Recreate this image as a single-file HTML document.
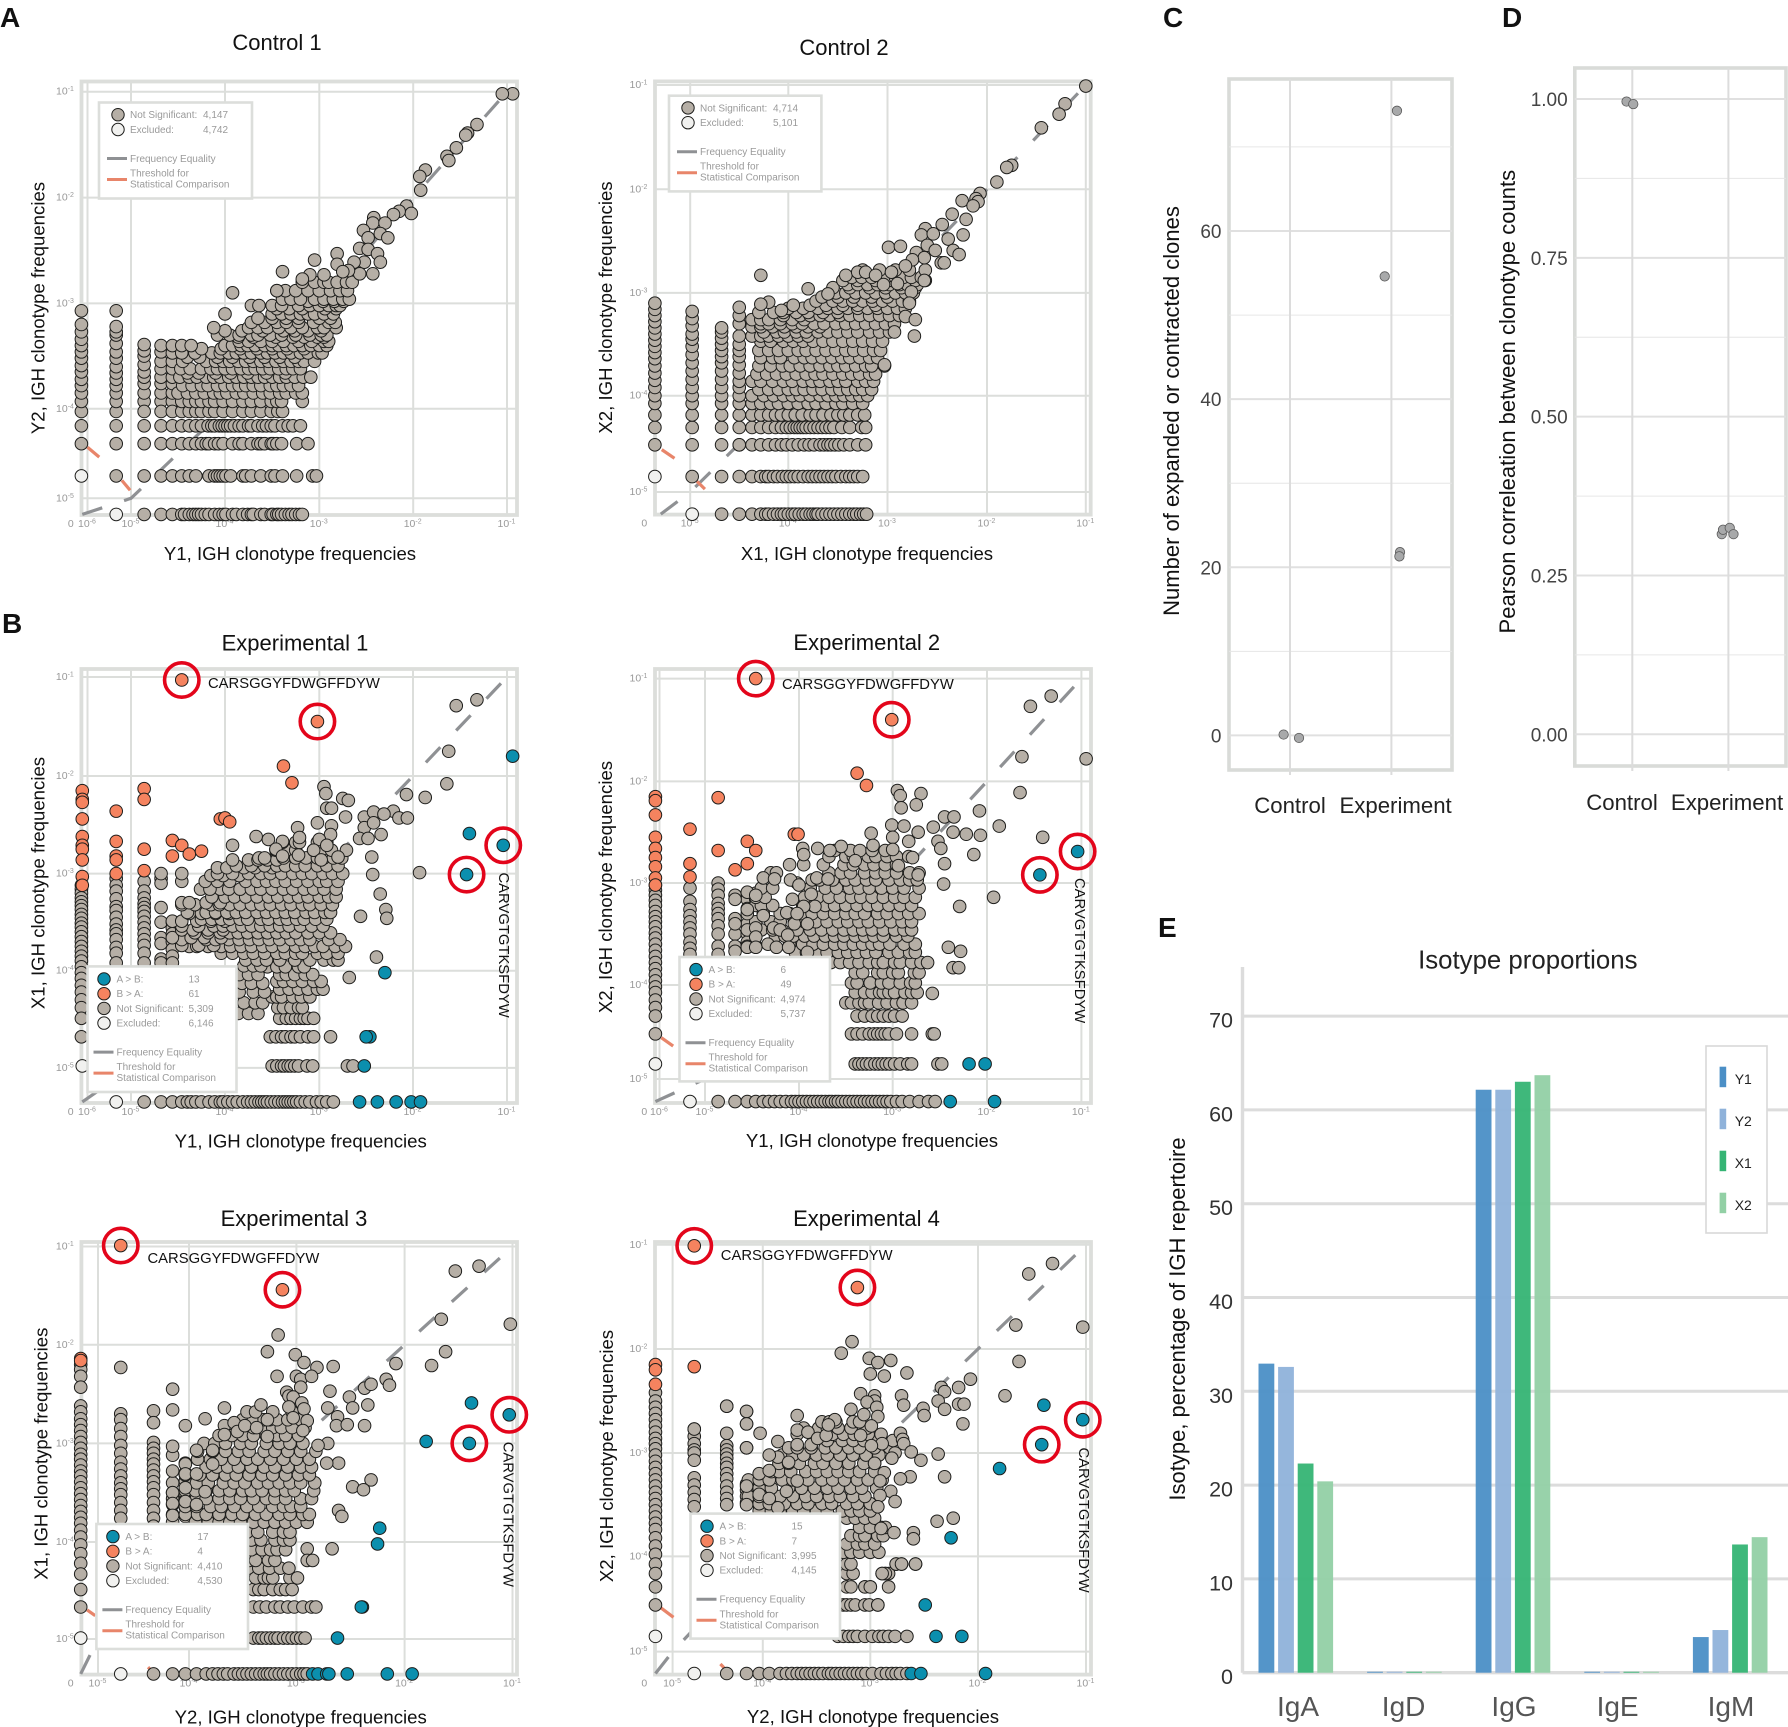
<!DOCTYPE html>
<html lang="en">
<head>
<meta charset="utf-8">
<title>IGH clonotype frequency comparison</title>
<style>
html,body{margin:0;padding:0;background:#fff}
svg{display:block}
text{font-family:"Liberation Sans",Arial,sans-serif}
</style>
</head>
<body>
<svg id="fig" xmlns="http://www.w3.org/2000/svg" width="1788" height="1727" viewBox="0 0 1788 1727"></svg>
<script>
/* ---- All scatter values are log10(frequency) x 100. Rows: [y, x, x, ...]; Columns: [x, y, y, ...]; Pairs: [x, y] ---- */
const control1XTicks=[-6,-5,-4,-3,-2,-1];
const control1YTicks=[-1,-2,-3,-4,-5];
const control1Cols=[
[-614,-403,-393,-385,-378,-372,-365,-359,-352,-346,-340,-334,-327,-320,-307],
[-534,-403,-393,-385,-378,-372,-366,-360,-352,-346,-338,-330,-327,-322,-307],
[-486,-393,-385,-376,-370,-365,-358,-350,-345,-339],
[-468,-393,-385,-376,-370,-362,-355,-346,-340],
[-456,-393,-385,-376,-370,-362,-355,-347,-340]];
const control1Rows=[
[-518,-486,-468,-456,-446,-443,-438,-434,-431,-428,-425,-421,-417,-411,-406,-402,-399,-392,-388,-381,-376,-372,-370,-362,-358,-351,-349,-345,-343,-340,-336,-332,-329,-325,-321,-318],
[-475,-534,-486,-468,-456,-446,-438,-431,-417,-411,-408,-405,-402,-399,-394,-381,-378,-372,-362,-351,-347,-339,-324,-307,-303],
[-439,-614,-534,-486,-468,-456,-446,-438,-431,-425,-420,-417,-411,-407,-402,-392,-385,-381,-372,-365,-362,-358,-351,-349,-345,-340,-324,-312],
[-419,-614,-534,-486,-468,-456,-446,-438,-431,-425,-418,-414,-411,-406,-403,-400,-397,-394,-390,-385,-381,-375,-372,-365,-360,-356,-351,-347,-339,-333,-328,-320],
[-403,-486,-468,-456,-446,-438,-431,-425,-417,-411,-402,-392,-381,-372,-362,-351,-344,-339],
[-393,-446,-438,-431,-425,-417,-411,-402,-392,-381,-372,-362,-351,-345,-340,-318],
[-385,-450,-440,-431,-422,-412,-405,-398,-388,-380,-370,-360,-352,-342,-335,-325,-318],
[-378,-445,-435,-425,-418,-408,-400,-392,-385,-378,-370,-362,-352,-345,-338,-330,-322],
[-370,-448,-438,-430,-420,-412,-405,-396,-388,-380,-372,-365,-358,-350,-342,-335,-326,-317,-309],
[-366,-440,-428,-410,-394,-376,-356,-336],
[-362,-447,-437,-425,-415,-408,-400,-392,-383,-375,-368,-360,-352,-343,-335,-328,-320],
[-355,-445,-420,-410,-402,-395,-386,-378,-370,-362,-354,-346,-338,-330,-322,-316,-305],
[-351,-440,-427,-408,-392,-374,-358,-342,-326],
[-347,-446,-432,-414,-405,-396,-388,-380,-372,-362,-355,-347,-338,-330,-320,-312,-301,-297],
[-343,-425,-404,-384,-366,-350,-334,-316],
[-340,-446,-436,-400,-392,-383,-376,-368,-358,-350,-343,-335,-327,-318,-309,-300,-292],
[-336,-385,-375,-362,-350,-338,-322,-308,-295,-290],
[-332,-386,-370,-346,-328,-316,-302,-295],
[-330,-408,-395,-385,-372,-365,-352,-340,-325,-310,-298,-292],
[-326,-400,-382,-360,-338,-326,-312,-298],
[-323,-412,-375,-365,-355,-343,-330,-318,-302,-295,-282],
[-318,-372,-358,-345,-335,-322,-306,-290,-283],
[-314,-365,-350,-335,-322,-300,-288],
[-310,-400,-350,-340,-330,-320,-312,-305,-295,-285],
[-305,-345,-332,-318,-294,-282],
[-302,-372,-364,-350,-340,-322,-310,-300,-290,-282,-278],
[-298,-312,-296,-284,-274],
[-296,-339,-330,-320,-305,-295,-285,-275,-268],
[-288,-345,-336,-325,-312,-300,-288,-278,-270],
[-280,-318,-305,-295,-290,-281,-271,-265]];
const control1Tail=[[-94,-102],[-105,-102],[-132,-131],[-142,-139],[-144,-141],[-154,-153],[-164,-161],[-162,-165],[-187,-174],[-193,-180],[-192,-193],[-207,-208],[-202,-215],[-215,-213],[-221,-216],[-242,-219],[-243,-224],[-230,-224],[-253,-231],[-235,-234],[-227,-238],[-248,-238],[-257,-248],[-248,-249],[-238,-253],[-235,-261],[-252,-261],[-263,-261],[-281,-253],[-305,-259],[-257,-272],[-243,-272],[-281,-263],[-269,-269],[-275,-270],[-339,-270],[-392,-290],[-345,-288],[-310,-273],[-295,-273],[-318,-277]];
const control1Excluded=[[-534,-518],[-614,-475]];
const control1Threshold=[[[-600,-443],[-573,-454]],[[-521,-480],[-502,-491]]];
const control1Counts=["4,147","4,742"];

const control2XTicks=[-5,-4,-3,-2,-1];
const control2YTicks=[-1,-2,-3,-4,-5];
const control2Cols=[
[-536,-451,-433,-420,-408,-400,-392,-385,-378,-371,-364,-358,-352,-346,-340,-334,-328,-322,-316,-310],
[-498,-451,-433,-420,-408,-400,-392,-384,-376,-368,-360,-352,-345,-340,-332,-325,-318],
[-468,-451,-433,-420,-408,-400,-392,-384,-376,-368,-362,-356,-350,-344,-338,-334],
[-450,-451,-433,-420,-408,-400,-392,-386,-378,-370,-362,-356,-350,-342,-330,-322,-314]];
const control2Rows=[
[-523,-468,-450,-437,-428,-423,-420,-415,-411,-407,-404,-400,-396,-393,-389,-385,-382,-378,-375,-372,-370,-366,-362,-358,-354,-350,-346,-342,-338,-334,-331,-327,-324,-321],
[-484,-498,-468,-450,-437,-428,-423,-420,-415,-411,-406,-402,-398,-394,-390,-385,-380,-376,-372,-368,-364,-360,-356,-352,-347,-342,-338,-334,-330,-325],
[-451,-450,-437,-428,-420,-413,-407,-402,-396,-390,-384,-379,-374,-368,-364,-360,-357,-353,-349,-344,-338,-330,-322],
[-433,-437,-428,-420,-413,-407,-402,-398,-394,-391,-388,-385,-382,-378,-374,-370,-366,-362,-358,-354,-346,-338,-326,-322],
[-420,-437,-428,-420,-413,-407,-400,-393,-386,-378,-372,-365,-357,-350,-344,-338,-330,-323],
[-408,-437,-428,-418,-410,-400,-390,-380,-372,-362,-352,-345,-335,-325],
[-400,-437,-425,-415,-405,-396,-388,-378,-368,-360,-352,-344,-336,-328,-320],
[-394,-430,-420,-410,-400,-392,-384,-375,-366,-356,-348,-340,-332,-325,-316],
[-386,-437,-428,-416,-405,-396,-385,-376,-368,-358,-350,-342,-330,-322,-314],
[-379,-432,-422,-412,-402,-392,-382,-373,-365,-355,-345,-336,-328,-318,-312],
[-371,-430,-418,-406,-398,-388,-378,-368,-358,-350,-342,-332,-322,-316,-303],
[-363,-428,-416,-408,-394,-384,-376,-366,-356,-346,-338,-328,-318,-310],
[-356,-430,-420,-410,-400,-390,-382,-372,-362,-352,-342,-334,-324,-314,-307],
[-347,-428,-418,-405,-395,-385,-375,-365,-355,-345,-335,-325,-315,-305],
[-342,-437,-428,-420,-410,-400,-390,-380],
[-338,-425,-412,-404,-392,-382,-370,-360,-350,-340,-330,-318,-308,-298],
[-333,-437,-428,-416,-404,-392,-380,-368],
[-330,-428,-420,-408,-396,-386,-374,-364,-352,-342,-332,-322,-312,-302,-293],
[-326,-437,-428,-420,-408,-396,-384],
[-322,-405,-388,-378,-368,-358,-348,-338,-328,-318,-308,-298,-288],
[-319,-430,-415,-405,-392,-380,-365,-350],
[-315,-400,-385,-370,-360,-350,-340,-330,-320,-310,-300,-290,-282],
[-312,-395,-378,-362,-345,-330,-312],
[-308,-372,-355,-345,-335,-325,-315,-305,-295,-285,-278],
[-304,-366,-350,-334,-316,-300],
[-300,-352,-342,-332,-322,-312,-302,-292,-282,-274],
[-295,-355,-338,-318,-302,-286,-272],
[-292,-340,-330,-320,-310,-298,-288,-280,-270],
[-288,-345,-330,-312,-295,-272,-262],
[-285,-336,-326,-316,-302,-292,-284,-276,-266],
[-278,-325,-308,-292,-278,-262]];
const control2Tail=[[-100,-101],[-121,-118],[-127,-128],[-145,-141],[-175,-177],[-180,-179],[-190,-193],[-207,-204],[-211,-209],[-225,-211],[-209,-212],[-214,-216],[-235,-224],[-221,-229],[-245,-234],[-262,-238],[-224,-244],[-239,-248],[-266,-244],[-254,-243],[-299,-256],[-287,-255],[-260,-254],[-271,-261],[-234,-259],[-228,-263],[-252,-259],[-246,-271],[-243,-271],[-263,-266],[-275,-268],[-282,-274],[-263,-288],[-428,-283],[-380,-296],[-360,-301],[-420,-309],[-428,-311],[-407,-317],[-282,-323],[-272,-326],[-273,-342],[-303,-370],[-293,-338],[-342,-283],[-330,-280],[-322,-280],[-312,-283],[-304,-292],[-290,-291],[-296,-280],[-276,-299],[-278,-310]];
const control2Excluded=[[-536,-484],[-498,-523]];
const control2Threshold=[[[-529,-456],[-516,-465]],[[-493,-489],[-485,-497]]];
const control2Counts=["4,714","5,101"];

const exp1XTicks=[-6,-5,-4,-3,-2,-1];
const exp1YTicks=[-1,-2,-3,-4,-5];
const exp1Cols=[
[-614,-312,-316,-320,-325,-329,-333,-337,-342,-346,-351,-355,-360,-365,-370,-375,-380,-385,-390,-396,-402,-408,-415,-422,-430,-438,-449,-468],
[-534,-305,-312,-318,-326,-334,-338,-345,-352,-358,-362,-368,-376,-382,-392],
[-486,-308,-318,-325,-331,-335,-339,-344,-350,-356,-362,-368,-374,-382,-392],
[-468,-305,-310,-335,-350,-366,-372,-388,-392],
[-456,-350,-356,-362,-370,-378,-385,-392]];
const exp1Rows=[
[-535,-486,-468,-456,-446,-440,-436,-431,-425,-417,-411,-405,-402,-397,-392,-387,-381,-376,-372,-368,-364,-361,-358,-355,-351,-347,-343,-339,-336,-333,-330,-327,-324,-320,-315,-310,-303,-298,-292,-285],
[-498,-350,-345,-340,-337,-333,-330,-326,-322,-313,-307,-270,-264],
[-468,-352,-346,-340,-336,-330,-326,-320,-312,-306,-288],
[-449,-342,-335,-330,-325,-320,-316,-312,-306],
[-444,-386,-375,-365],
[-438,-344,-338,-330,-322,-318],
[-433,-380,-368,-360],
[-427,-350,-345,-340,-328,-319,-310],
[-422,-385,-370,-358],
[-419,-342,-332,-322,-312,-302,-296],
[-413,-382,-372,-360],
[-411,-345,-338,-328,-318,-306,-298],
[-404,-342,-335,-326,-315,-307,-385,-375,-365],
[-396,-355,-345,-336,-322,-316],
[-395,-380,-370,-362],
[-389,-378,-366,-356,-342,-326,-310,-295,-285,-280],
[-382,-404,-392,-380,-370,-358,-345,-336,-325,-318,-302,-292,-280],
[-375,-438,-430,-418,-404,-394,-383,-372,-360,-350,-338,-325,-315,-305,-296,-283,-272],
[-374,-446,-428,-412],
[-368,-446,-420,-410,-396,-385,-374,-364,-353,-342,-330,-320,-310,-290,-278],
[-366,-456,-436,-422,-404],
[-361,-432,-418,-405,-395,-386,-376,-365,-355,-345,-335,-325,-312,-300,-288],
[-358,-446,-434,-418,-402],
[-354,-446,-428,-412,-402,-392,-382,-372,-362,-352,-342,-332,-320,-308,-296],
[-349,-456,-446,-430,-415,-400],
[-347,-425,-414,-404,-395,-384,-376,-362,-354,-342,-334,-324,-316,-304,-292],
[-341,-438,-425,-410,-396],
[-340,-440,-420,-410,-398,-388,-378,-366,-356,-346,-336,-326,-314,-305,-294,-288],
[-332,-446,-432,-415,-406,-395,-384,-372,-362,-352,-340,-330,-318,-310,-298,-286],
[-330,-446,-438,-420,-405],
[-324,-414,-400,-390,-378,-366,-354,-344,-332,-322,-312,-300,-290,-282],
[-316,-405,-396,-384,-372,-362,-350,-338,-328,-316,-306,-295,-282,-426,-416],
[-308,-395,-378,-366,-356,-346,-336,-324,-312,-300,-292,-280,-446,-421,-408],
[-302,-415,-402,-385],
[-300,-392,-375,-362,-352,-340,-328,-318,-308,-296,-286,-275,-468,-446,-408],
[-294,-408,-398,-380,-368,-350],
[-292,-388,-372,-358,-345,-336,-325,-315,-302,-292,-280],
[-286,-392,-375,-365,-355,-345],
[-284,-364,-358,-338,-325,-314,-302,-295,-285,-276],
[-276,-346,-339,-335,-325,-306,-298,-287],
[-268,-339,-325,-321,-302,-292]];
const exp1Tail=[[-132,-123],[-154,-129],[-162,-175],[-164,-208],[-207,-219],[-187,-222],[-221,-236],[-215,-243],[-206,-243],[-193,-299],[-243,-301],[-235,-321],[-229,-337],[-228,-346],[-256,-344],[-239,-386],[-268,-407],[-295,-211],[-293,-218],[-275,-223],[-269,-225],[-292,-233],[-287,-233],[-272,-242],[-302,-248],[-287,-251],[-252,-242],[-242,-237],[-231,-239],[-252,-253],[-242,-248],[-234,-260],[-257,-264],[-248,-264],[-244,-283],[-288,-260],[-300,-265],[-292,-271],[-306,-276],[-271,-276],[-280,-283],[-298,-286],[-323,-253],[-321,-263],[-339,-267],[-354,-265],[-367,-262],[-392,-271],[-346,-275],[-339,-282],[-322,-281]];
const exp1AgtB=[[-94,-180],[-140,-259],[-104,-271],[-143,-301],[-230,-402],[-246,-468],[-250,-468],[-252,-498],[-257,-535],[-238,-535],[-218,-535],[-202,-535],[-192,-535]];
const exp1BgtA=[[-446,-103],[-302,-145],[-338,-190],[-329,-207],[-612,-215],[-612,-224],[-612,-227],[-612,-244],[-612,-262],[-612,-271],[-612,-275],[-612,-286],[-612,-303],[-612,-312],[-534,-236],[-534,-267],[-534,-282],[-534,-286],[-534,-300],[-486,-213],[-486,-224],[-486,-275],[-486,-297],[-405,-244],[-400,-243],[-395,-247],[-456,-266],[-446,-271],[-438,-280],[-425,-277],[-456,-282]];
const exp1Excluded=[[-534,-535],[-612,-498]];
const exp1Rings=[[-446,-103],[-302,-145],[-104,-271],[-143,-301]];
const exp1Counts=["13","61","5,309","6,146"];

const exp2XTicks=[-6,-5,-4,-3,-2,-1];
const exp2YTicks=[-1,-2,-3,-4,-5];
const exp2Cols=[
[-609,-302,-307,-312,-317,-322,-328,-333,-338,-343,-349,-354,-360,-366,-372,-378,-384,-390,-396,-402,-408,-416,-424,-433,-452],
[-533,-305,-318,-326,-332,-338,-344,-350,-358,-364,-370],
[-486,-300,-306,-312,-320,-325,-330,-335,-342,-350,-362,-370],
[-468,-312,-335,-350,-362],
[-455,-310,-316,-325,-340,-350,-358,-362],
[-446,-310,-316,-322,-345,-352,-362]];
const exp2Rows=[
[-524,-486,-468,-455,-446,-438,-432,-426,-420,-414,-408,-404,-400,-396,-392,-388,-384,-380,-376,-372,-368,-365,-361,-358,-354,-350,-346,-342,-338,-334,-330,-326,-322,-318,-314,-310,-306,-302,-296,-290,-282,-272,-262,-255],
[-484,-340,-336,-332,-328,-324,-319,-315,-311,-307,-303,-298,-292,-284,-280,-252,-248],
[-452,-344,-338,-332,-325,-320,-316,-312,-308,-304,-296,-280,-258],
[-433,-338,-330,-322,-316,-310,-304,-298,-290],
[-419,-350,-344,-336,-330,-325,-315,-306,-296,-289,-280],
[-408,-340,-330,-322,-314,-310,-304,-298,-287,-280,-274],
[-398,-344,-338,-324,-312,-304,-292,-281,-276],
[-388,-340,-332,-316,-310,-300,-294,-277,-272],
[-378,-366,-356,-346,-336,-325,-316,-310,-298,-292,-280,-270],
[-368,-404,-392,-380,-370,-358,-348,-338,-328,-318,-304,-294,-282,-276],
[-360,-410,-396,-385,-374,-362,-352,-342,-332,-322,-314,-303,-288,-276],
[-352,-425,-415,-406,-394,-384,-372,-362,-352,-340,-330,-320,-310,-296,-284],
[-346,-440,-428,-418,-402,-388,-376,-364,-352,-342,-332,-322,-310,-298,-288,-280],
[-338,-446,-430,-420,-405,-394,-382,-370,-358,-348,-336,-326,-314,-302,-290,-280],
[-330,-455,-438,-420,-410,-398,-386,-374,-362,-350,-340,-330,-316,-306,-294,-283,-272],
[-322,-440,-428,-396,-385,-372,-362,-350,-338,-326,-316,-304,-292,-280],
[-314,-446,-436,-394,-380,-368,-356,-344,-334,-322,-310,-298,-288,-276],
[-305,-440,-428,-388,-372,-360,-346,-336,-325,-312,-300,-288,-272],
[-297,-386,-378,-364,-350,-340,-328,-318,-304,-292,-282,-274],
[-290,-430,-424,-368,-355,-345,-330,-318,-308,-296,-282,-272],
[-282,-410,-395,-374,-352,-342,-330,-320,-308,-296],
[-274,-368,-350,-342,-326,-318,-306,-296,-283],
[-268,-362,-345,-335,-322,-308],
[-266,-396,-380]];
const exp2Tail=[[-132,-117],[-154,-127],[-95,-178],[-163,-176],[-165,-211],[-208,-229],[-187,-244],[-207,-253],[-222,-252],[-214,-272],[-141,-255],[-193,-314],[-229,-323],[-245,-281],[-246,-301],[-236,-250],[-245,-235],[-235,-235],[-257,-245],[-252,-259],[-249,-266],[-241,-363],[-228,-367],[-236,-383],[-230,-383],[-263,-378],[-258,-409],[-256,-452],[-295,-209],[-292,-214],[-270,-212],[-275,-223],[-291,-226],[-301,-243],[-288,-244],[-273,-250],[-323,-251],[-321,-263],[-300,-255],[-283,-259],[-300,-267],[-279,-275],[-294,-283],[-273,-292],[-355,-264],[-367,-268],[-395,-272],[-340,-278],[-438,-295],[-426,-296],[-381,-295],[-369,-296],[-402,-300],[-468,-316],[-455,-309],[-446,-312],[-438,-332],[-455,-326],[-468,-340],[-455,-346],[-446,-344],[-427,-344],[-420,-346],[-412,-351],[-446,-353],[-468,-367],[-455,-363],[-446,-363],[-433,-360],[-424,-363],[-411,-363],[-391,-368],[-409,-297],[-400,-302],[-407,-316],[-387,-311],[-383,-323],[-413,-329],[-395,-323],[-405,-340],[-402,-330],[-391,-340]];
const exp2AgtB=[[-104,-269],[-144,-292],[-219,-484],[-202,-484],[-239,-524],[-192,-524]];
const exp2BgtA=[[-446,-100],[-301,-140],[-338,-192],[-328,-204],[-609,-215],[-609,-219],[-609,-233],[-609,-255],[-609,-266],[-609,-275],[-609,-284],[-609,-295],[-609,-302],[-533,-247],[-533,-281],[-533,-294],[-486,-216],[-486,-268],[-405,-252],[-401,-252],[-455,-259],[-446,-268],[-468,-287],[-455,-281]];
const exp2Excluded=[[-533,-524],[-609,-484]];
const exp2Rings=[[-446,-100],[-301,-140],[-104,-269],[-144,-292]];
const exp2Counts=["6","49","4,974","5,737"];

const exp3XTicks=[-5,-4,-3,-2,-1];
const exp3YTicks=[-1,-2,-3,-4,-5];
const exp3Cols=[
[-519,-220,-225,-232,-243,-262,-268,-275,-281,-287,-293,-299,-305,-311,-316,-322,-328,-333,-339,-345,-351,-357,-363,-369,-375,-381,-388,-395,-403,-412,-422,-433,-449,-467],
[-475,-270,-276,-285,-293,-302,-310,-319,-326,-333,-340,-346,-352,-360,-368,-376],
[-439,-299,-305,-310,-316,-321,-327,-333,-339,-345,-352,-360,-368,-376,-384],
[-418,-312,-340,-350,-356,-362,-372,-380],
[-404,-320,-330,-338,-345,-352,-358,-365,-374]];
const exp3Rows=[
[-536,-439,-418,-404,-393,-384,-378,-373,-368,-364,-358,-354,-350,-346,-342,-338,-334,-330,-327,-324,-320,-316,-312,-308,-304,-300,-296,-293,-290],
[-499,-355,-340,-335,-332,-328,-324,-320,-317,-312,-308,-304,-300,-296,-292],
[-467,-340,-334,-328,-320,-315,-308,-302,-294,-286,-282],
[-449,-340,-335,-330,-322,-315,-310],
[-437,-338,-330,-326,-322,-306],
[-427,-352,-345,-335,-325,-315],
[-419,-350,-344,-338,-326,-320],
[-408,-342,-332,-324,-318,-310],
[-398,-358,-350,-342,-333,-320,-312,-306],
[-390,-400,-388,-378,-366,-356,-346,-336,-322,-312,-306],
[-380,-394,-382,-372,-362,-352,-340,-330,-320,-310,-300,-290],
[-372,-404,-392,-384,-372,-360,-350,-338,-328,-316,-306,-294,-288],
[-364,-404,-393,-380,-370,-358,-346,-335,-322,-312,-305,-296],
[-356,-393,-384,-372,-362,-352,-340,-328,-320,-310,-296,-286],
[-348,-404,-394,-384,-372,-362,-350,-342,-332,-320,-310,-302,-284],
[-340,-393,-382,-368,-358,-348,-336,-326,-316,-306,-296,-283],
[-332,-404,-390,-378,-366,-356,-344,-332,-322,-310,-298,-288],
[-324,-384,-374,-364,-354,-342,-330,-320,-308,-296,-286],
[-316,-392,-380,-370,-358,-346,-336,-324,-312,-300,-288],
[-308,-392,-378,-366,-354,-344,-330,-320,-308,-296,-282],
[-300,-386,-376,-366,-352,-342,-328,-316,-306,-294],
[-292,-372,-360,-350,-340,-328,-318,-310,-298],
[-284,-354,-340,-332,-322,-314,-304,-292],
[-276,-350,-340,-330,-325,-318,-308,-296],
[-268,-346,-338,-322,-304]];
const exp3Tail=[[-102,-179],[-131,-120],[-153,-125],[-166,-174],[-162,-207],[-175,-221],[-208,-219],[-317,-190],[-327,-207],[-301,-210],[-293,-218],[-281,-223],[-266,-222],[-318,-232],[-300,-232],[-296,-235],[-286,-232],[-296,-243],[-309,-248],[-307,-252],[-303,-253],[-295,-259],[-307,-263],[-293,-265],[-303,-274],[-290,-277],[-294,-287],[-269,-247],[-251,-253],[-237,-244],[-231,-240],[-217,-235],[-214,-241],[-234,-261],[-248,-264],[-271,-264],[-262,-273],[-263,-282],[-253,-281],[-237,-282],[-271,-300],[-280,-302],[-261,-320],[-272,-320],[-231,-337],[-248,-344],[-238,-347],[-261,-368],[-258,-374],[-267,-407],[-290,-407],[-290,-419],[-285,-419],[-307,-427],[-299,-437],[-304,-449],[-418,-245],[-418,-266],[-439,-267],[-439,-279],[-475,-223],[-404,-282],[-385,-275],[-367,-264],[-333,-261],[-327,-276],[-418,-303],[-418,-328],[-418,-350],[-418,-361],[-418,-373],[-404,-321],[-404,-331],[-404,-345],[-404,-359],[-393,-307],[-393,-331],[-393,-362],[-385,-349],[-378,-307],[-378,-321],[-367,-282],[-367,-291],[-358,-279],[-355,-288],[-348,-282],[-337,-284],[-327,-293]];
const exp3AgtB=[[-103,-271],[-138,-259],[-140,-300],[-180,-298],[-223,-386],[-225,-402],[-239,-467],[-240,-467],[-262,-499],[-285,-536],[-280,-536],[-272,-536],[-270,-536],[-253,-536],[-216,-536],[-193,-536]];
const exp3BgtA=[[-475,-99],[-313,-144],[-519,-214],[-519,-216]];
const exp3Excluded=[[-475,-536],[-519,-499]];
const exp3Rings=[[-475,-99],[-313,-144],[-103,-271],[-140,-300]];
const exp3Threshold=[[[-512,-470],[-503,-476]],[[-445,-529],[-443,-531]]];
const exp3Counts=["17","4","4,410","4,530"];

const exp4XTicks=[-5,-4,-3,-2,-1];
const exp4YTicks=[-1,-2,-3,-4,-5];
const exp4Cols=[
[-519,-242,-250,-256,-262,-268,-274,-280,-286,-291,-296,-302,-308,-314,-320,-326,-332,-338,-344,-350,-356,-362,-368,-374,-382,-390,-398,-408,-418,-432,-451],
[-476,-277,-284,-291,-297,-300,-307,-324,-331,-338,-345,-352],
[-440,-255,-281,-293,-297,-301,-305,-310,-314,-320,-325,-332,-338,-344,-350],
[-418,-260,-272,-295,-330,-336,-342,-348],
[-404,-322,-330,-336,-345,-350]];
const exp4Rows=[
[-523,-440,-418,-404,-394,-384,-378,-373,-368,-364,-360,-356,-352,-348,-344,-339,-336,-332,-328,-324,-320,-316,-312,-308,-304,-298,-290,-285,-280,-276,-272,-266],
[-484,-330,-325,-320,-316,-312,-305,-298,-292,-288,-283,-277,-266],
[-451,-325,-322,-318,-314,-305,-301,-293],
[-432,-322,-318,-305,-300],
[-418,-322,-316,-289,-286,-283],
[-408,-322,-318,-276,-271,-258],
[-396,-325,-318,-310,-300,-292],
[-388,-322,-312,-305,-296],
[-380,-318,-310,-305,-293,-288],
[-372,-310,-300,-290,-286],
[-363,-382,-375,-368,-356,-345,-335,-322,-314,-305,-296],
[-356,-404,-392,-384,-372,-362,-350,-340,-326,-318,-310,-300],
[-349,-404,-394,-380,-368,-358,-345,-336,-322,-312,-300],
[-342,-416,-404,-392,-384,-372,-360,-350,-338,-328,-316,-305],
[-334,-404,-392,-376,-364,-352,-340,-330,-318,-308,-294],
[-326,-416,-404,-394,-382,-372,-358,-345,-335,-324,-312,-302,-289],
[-318,-392,-385,-374,-360,-350,-340,-330,-320,-310,-296],
[-310,-385,-376,-366,-352,-344,-332,-320,-306,-296],
[-302,-382,-372,-362,-350,-340,-328,-316,-304,-292],
[-295,-376,-368,-355,-342,-332,-320,-310,-296,-282],
[-288,-340,-326,-316,-306,-293,-279],
[-282,-368,-348,-335,-325,-315,-302,-290],
[-276,-362,-348,-340,-330,-318,-303],
[-270,-345,-338,-332,-316,-310]];
const exp4Tail=[[-103,-179],[-131,-118],[-153,-128],[-165,-177],[-162,-212],[-207,-229],[-175,-245],[-214,-272],[-218,-237],[-234,-237],[-231,-241],[-237,-250],[-218,-253],[-213,-253],[-251,-257],[-250,-264],[-231,-258],[-317,-193],[-327,-204],[-301,-209],[-293,-213],[-281,-211],[-266,-223],[-300,-224],[-287,-226],[-309,-243],[-296,-245],[-296,-250],[-303,-251],[-318,-258],[-294,-256],[-306,-263],[-293,-265],[-271,-245],[-269,-254],[-299,-274],[-309,-283],[-272,-281],[-270,-287],[-269,-291],[-289,-291],[-299,-293],[-262,-299],[-253,-307],[-237,-301],[-231,-323],[-277,-300],[-280,-305],[-296,-310],[-287,-319],[-291,-327],[-263,-323],[-272,-325],[-281,-337],[-277,-347],[-291,-341],[-293,-352],[-238,-366],[-223,-363],[-260,-377],[-260,-383],[-278,-377],[-290,-373],[-258,-408],[-276,-408],[-271,-408],[-286,-418],[-289,-418],[-283,-432],[-305,-432],[-300,-432],[-293,-451],[-440,-255],[-418,-260],[-418,-272],[-403,-281],[-368,-264],[-368,-278],[-418,-295],[-476,-277],[-386,-289],[-386,-304],[-394,-302],[-376,-309],[-368,-292],[-358,-280],[-355,-292],[-349,-286],[-341,-283],[-333,-268],[-339,-273],[-404,-320],[-394,-317],[-418,-332],[-418,-350],[-404,-340],[-394,-344],[-386,-353],[-378,-337],[-368,-327]];
const exp4AgtB=[[-103,-268],[-139,-254],[-141,-292],[-180,-315],[-225,-382],[-249,-451],[-239,-484],[-215,-484],[-262,-523],[-253,-523],[-193,-523]];
const exp4BgtA=[[-476,-101],[-312,-141],[-519,-215],[-519,-220],[-519,-234],[-476,-217]];
const exp4Excluded=[[-476,-523],[-519,-484]];
const exp4Rings=[[-476,-101],[-312,-141],[-103,-268],[-141,-292]];
const exp4Threshold=[[[-513,-454],[-499,-464]],[[-447,-513],[-443,-517]]];
const exp4Counts=["15","7","3,995","4,145"];

const exp1Threshold=[[[-519,-521],[-516,-522]]];
const exp2Threshold=[[[-596,-456],[-570,-465]]];

/* Panel C / D strip charts */
const stripCategories=["Control","Experiment"];
const cTicks=[0,20,40,60];
const cMinorTicks=[10,30,50,70];
const cControlValues=[0.1,-0.3];
const cControlJitter=[-0.063,0.089];
const cExperimentValues=[74.3,54.6,21.8,21.3];
const cExperimentJitter=[0.055,-0.066,0.085,0.079];
const dTicks=[0,0.25,0.5,0.75,1];
const dMinorTicks=[0.125,0.375,0.625,0.875];
const dControlValues=[0.996,0.992];
const dControlJitter=[-0.06,0.01];
const dExperimentValues=[0.315,0.322,0.325,0.315];
const dExperimentJitter=[-0.069,-0.056,0.014,0.053];

/* Panel E bars */
const isotypes=["IgA","IgD","IgG","IgE","IgM"];
const seriesNames=["Y1","Y2","X1","X2"];
const y1Values=[32.95,0.1,62.15,0.1,3.8];
const y2Values=[32.6,0.1,62.15,0.1,4.55];
const x1Values=[22.3,0.1,63,0.1,13.67];
const x2Values=[20.4,0.1,63.7,0.1,14.45];
const eTicks=[0,10,20,30,40,50,60,70];

/* ---- helpers ---- */
const NS='http://www.w3.org/2000/svg';
const svg=document.getElementById('fig');
function mk(tag,attrs,parent,txt){
  const e=document.createElementNS(NS,tag);
  for(const k in attrs)e.setAttribute(k,attrs[k]);
  if(txt!==undefined)e.textContent=txt;
  (parent||svg).appendChild(e);
  return e;
}
function pieceScale(ticks,px){
  const pairs=ticks.map((t,i)=>[t,px[i]]).sort((a,b)=>a[0]-b[0]);
  return v=>{
    let i=0;
    while(i<pairs.length-2&&v>pairs[i+1][0])i++;
    const a=pairs[i],b=pairs[i+1];
    return a[1]+(v-a[0])*(b[1]-a[1])/(b[0]-a[0]);
  };
}
const expandRows=r=>r.flatMap(a=>a.slice(1).map(x=>[x,a[0]]));
const expandCols=c=>c.flatMap(a=>a.slice(1).map(y=>[a[0],y]));

const GRID='#dcdedb',NSFILL='#b6afa6',ORANGE='#f5835f',TEAL='#0b8fae',EXC='#f1f1ef',INK='#1d1d1b';

function letter(t,x,y){
  const e=mk('text',{x:x,y:y,'font-size':28,'font-weight':'bold',fill:'#111'},svg,t);
  
  
}

function scatter(p){
  const g=mk('g',{});
  
  
  const [L,T,R,B]=p.frame;
  const sx=pieceScale(p.xTicks,p.xPx),sy=pieceScale(p.yTicks,p.yPx);
  const X=v=>sx(v/100),Y=v=>sy(v/100);
  const frame=mk('rect',{x:L,y:T,width:R-L,height:B-T,fill:'#fff',stroke:GRID,'stroke-width':3.8},g);
  
  
  p.xPx.forEach((v,i)=>{
    const l=mk('line',{x1:sx(p.xTicks[i]),x2:sx(p.xTicks[i]),y1:T,y2:B,stroke:GRID,'stroke-width':2},g);
    
    
    const t=mk('text',{x:sx(p.xTicks[i])-9.5,y:B+12,'font-size':10.5,fill:'#999'},g,'10');
    mk('tspan',{dy:-3.5,'font-size':7},t,String(p.xTicks[i]));
    
    
  });
  p.yPx.forEach((v,i)=>{
    const l=mk('line',{x1:L,x2:R,y1:sy(p.yTicks[i]),y2:sy(p.yTicks[i]),stroke:GRID,'stroke-width':2},g);
    
    
    const t=mk('text',{x:L-25.5,y:sy(p.yTicks[i])+3,'font-size':10.5,fill:'#999'},g,'10');
    mk('tspan',{dy:-3.5,'font-size':7},t,String(p.yTicks[i]));
    
    
  });
  const zero=mk('text',{x:L-13.6,y:B+12,'font-size':10.5,fill:'#999'},g,'0');
  
  

  const eqStart=[p.eqFrom[0],p.eqFrom[1]];
  const eqPts=[eqStart,...[-500,-400,-300,-200,-100].map(v=>[v,v])];
  const eq=mk('polyline',{points:eqPts.map(a=>X(a[0])+','+Y(a[1])).join(' '),fill:'none',stroke:'#8f9194','stroke-width':3.2,'stroke-dasharray':'21 23'},g);
  
  
  p.threshold.forEach(s=>{
    const l=mk('line',{x1:X(s[0][0]),y1:Y(s[0][1]),x2:X(s[1][0]),y2:Y(s[1][1]),stroke:'#e8856a','stroke-width':3.2},g);
    
    
  });
  function dots(list,fill,name){
    list.forEach(a=>{
      const c=mk('circle',{cx:X(a[0]),cy:Y(a[1]),r:6.3,fill:fill,stroke:INK,'stroke-width':1},g);
      
      
    });
  }
  dots(expandCols(p.cols).concat(expandRows(p.rows),p.tail),NSFILL,p.id+'-not-significant-point');
  dots(p.excluded,EXC,p.id+'-excluded-point');
  dots(p.bgta||[],ORANGE,p.id+'-b-greater-point');
  dots(p.agtb||[],TEAL,p.id+'-a-greater-point');
  (p.rings||[]).forEach(a=>{
    const c=mk('circle',{cx:X(a[0]),cy:Y(a[1]),r:17.2,fill:'none',stroke:'#e3051b','stroke-width':3.6},g);
    
    
  });

  /* legend */
  const [bx,by,bw,bh]=p.legend;
  const lg=mk('g',{},g);
  
  
  mk('rect',{x:bx,y:by,width:bw,height:bh,fill:'#fff',stroke:GRID,'stroke-width':2.6},lg);
  const four=p.counts.length===4;
  const labels=four?['A > B:','B > A:','Not Significant:','Excluded:']:['Not Significant:','Excluded:'];
  const fills=four?[TEAL,ORANGE,NSFILL,EXC]:[NSFILL,EXC];
  const cx=bx+(four?16.5:19),tx=bx+(four?29:31),vx=bx+(four?101:104);
  const y0=by+(four?12.6:12.2),dy=four?14.7:14.8;
  labels.forEach((t,i)=>{
    const c=mk('circle',{cx:cx,cy:y0+i*dy,r:6.2,fill:fills[i],stroke:INK,'stroke-width':1},lg);
    
    
    const a=mk('text',{x:tx,y:y0+i*dy+3.4,'font-size':10,fill:'#9a9a9a'},lg,t);
    
    
    const b=mk('text',{x:vx,y:y0+i*dy+3.4,'font-size':10,fill:'#9a9a9a'},lg,p.counts[i]);
    
    
  });
  const ly=y0+(labels.length-1)*dy+29;
  const g1=mk('line',{x1:tx-23,x2:tx-3,y1:ly,y2:ly,stroke:'#8f9194','stroke-width':3},lg);
  
  
  const t1=mk('text',{x:tx,y:ly+3.4,'font-size':10,fill:'#9a9a9a'},lg,'Frequency Equality');
  
  
  const g2=mk('line',{x1:tx-23,x2:tx-3,y1:ly+21,y2:ly+21,stroke:'#e8856a','stroke-width':3},lg);
  
  
  const t2=mk('text',{x:tx,y:ly+18,'font-size':10,fill:'#9a9a9a'},lg,'Threshold for');
  
  
  const t3=mk('text',{x:tx,y:ly+29,'font-size':10,fill:'#9a9a9a'},lg,'Statistical Comparison');
  
  

  /* titles */
  const ti=mk('text',{x:p.title[1],y:p.title[2],'font-size':22,'text-anchor':'middle',fill:'#111'},g,p.title[0]);
  
  
  const xt=mk('text',{x:p.xTitle[1],y:p.xTitle[2],'font-size':18.6,'text-anchor':'middle',fill:'#111'},g,p.xTitle[0]);
  
  
  const yt=mk('text',{transform:'translate('+p.yTitle[1]+','+p.yTitle[2]+') rotate(-90)','font-size':18.6,'text-anchor':'middle',fill:'#111'},g,p.yTitle[0]);
  
  
  if(p.seqH){
    const a=mk('text',{x:p.seqH[0],y:p.seqH[1],'font-size':14.8,fill:'#111'},g,'CARSGGYFDWGFFDYW');
    
    
    const b=mk('text',{transform:'translate('+p.seqV[0]+','+p.seqV[1]+') rotate(90)','font-size':14.8,fill:'#111'},g,'CARVGTGTKSFDYW');
    
    
  }
}

function strip(p){
  const g=mk('g',{});
  
  
  const [L,T,R,B]=p.frame;
  const Y=v=>p.y0+(p.y1-p.y0)*(v-p.v0)/(p.v1-p.v0);
  const fr=mk('rect',{x:L,y:T,width:R-L,height:B-T,fill:'#fff',stroke:'#d9dbd8','stroke-width':3.6},g);
  
  
  p.minor.forEach(v=>{
    const l=mk('line',{x1:L,x2:R,y1:Y(v),y2:Y(v),stroke:'#e6e6e6','stroke-width':1},g);
    
    
  });
  p.ticks.forEach(v=>{
    const l=mk('line',{x1:L,x2:R,y1:Y(v),y2:Y(v),stroke:'#e0e0e0','stroke-width':2},g);
    
    
    const t=mk('text',{x:p.tickRight,y:Y(v)+7,'font-size':19,'text-anchor':'end',fill:'#444'},g,p.fmt(v));
    
    
  });
  p.catPx.forEach((cx,i)=>{
    const l=mk('line',{x1:cx,x2:cx,y1:T,y2:B+5,stroke:'#dcdcdc','stroke-width':2},g);
    
    
    const t=mk('text',{x:p.labelPx[i],y:p.labelY,'font-size':22.2,'text-anchor':'middle',fill:'#222'},g,stripCategories[i]);
    
    
  });
  p.series.forEach((s,si)=>{
    s[0].forEach((v,i)=>{
      const c=mk('circle',{cx:p.catPx[si]+s[1][i]*p.step,cy:Y(v),r:4.7,fill:'#a8a9aa',stroke:'#5a5a5a','stroke-width':.8},g);
      
      
    });
  });
  const yt=mk('text',{transform:'translate('+p.yTitle[1]+','+p.yTitle[2]+') rotate(-90)','font-size':p.titleSize,'text-anchor':'middle',fill:'#111'},g,p.yTitle[0]);
  
  
}

/* ---- panel letters ---- */
letter('A',0,27);letter('B',2,633);letter('C',1163,27);letter('D',1502,27);letter('E',1158,937);

/* ---- scatter panels ---- */
scatter({id:'control-1',frame:[81.5,81.5,517,515],xTicks:control1XTicks,xPx:[87.5,131,225,319.3,413.2,507],yTicks:control1YTicks,yPx:[91.7,197.6,303.4,408.8,498.3],
 eqFrom:[-612,-518],cols:control1Cols,rows:control1Rows,tail:control1Tail,excluded:control1Excluded,threshold:control1Threshold,counts:control1Counts,
 legend:[99,102.5,153,96],title:['Control 1',277,50],xTitle:['Y1, IGH clonotype frequencies',290,560],yTitle:['Y2, IGH clonotype frequencies',44.6,308]});
scatter({id:'control-2',frame:[655,81.4,1090.7,514.6],xTicks:control2XTicks,xPx:[690.2,788.3,887.5,987,1085.8],yTicks:control2YTicks,yPx:[85,189.3,292.9,395.7,492],
 eqFrom:[-530,-523],cols:control2Cols,rows:control2Rows,tail:control2Tail,excluded:control2Excluded,threshold:control2Threshold,counts:control2Counts,
 legend:[669,95.7,152.4,95.7],title:['Control 2',844,55],xTitle:['X1, IGH clonotype frequencies',867,560],yTitle:['X2, IGH clonotype frequencies',612,307.5]});
scatter({id:'experimental-1',frame:[81.4,669,517,1103],xTicks:exp1XTicks,xPx:[87.5,131,225,319.3,413,507],yTicks:exp1YTicks,yPx:[677,776,873.6,970.7,1067.9],
 eqFrom:[-612,-535],cols:exp1Cols,rows:exp1Rows,tail:exp1Tail,excluded:exp1Excluded,agtb:exp1AgtB,bgta:exp1BgtA,rings:exp1Rings,threshold:exp1Threshold,counts:exp1Counts,
 legend:[87.5,966.4,149,125.6],title:['Experimental 1',295,650.4],xTitle:['Y1, IGH clonotype frequencies',300.7,1147.5],yTitle:['X1, IGH clonotype frequencies',44.6,883],seqH:[208,688],seqV:[499,872.5]});
scatter({id:'experimental-2',frame:[655,669,1091,1103],xTicks:exp2XTicks,xPx:[659.5,705,799,892.7,987,1081.4],yTicks:exp2YTicks,yPx:[678.6,781.4,883,985,1079],
 eqFrom:[-609,-524],cols:exp2Cols,rows:exp2Rows,tail:exp2Tail,excluded:exp2Excluded,agtb:exp2AgtB,bgta:exp2BgtA,rings:exp2Rings,threshold:exp2Threshold,counts:exp2Counts,
 legend:[679.5,957,150.5,124.4],title:['Experimental 2',866.8,650],xTitle:['Y1, IGH clonotype frequencies',872,1147],yTitle:['X2, IGH clonotype frequencies',612,887],seqH:[782,689],seqV:[1075,878]});
scatter({id:'experimental-3',frame:[81.4,1242,517,1674.6],xTicks:exp3XTicks,xPx:[98,189,296.4,404.6,512.5],yTicks:exp3YTicks,yPx:[1246.5,1344.8,1443.4,1542,1639],
 eqFrom:[-519,-536],cols:exp3Cols,rows:exp3Rows,tail:exp3Tail,excluded:exp3Excluded,agtb:exp3AgtB,bgta:exp3BgtA,rings:exp3Rings,threshold:exp3Threshold,counts:exp3Counts,
 legend:[96.4,1524,151.6,125],title:['Experimental 3',294,1226],xTitle:['Y2, IGH clonotype frequencies',300.7,1723.5],yTitle:['X1, IGH clonotype frequencies',47.5,1453.7],seqH:[147.5,1263],seqV:[503.5,1441.7]});
scatter({id:'experimental-4',frame:[655,1242,1091,1674.6],xTicks:exp4XTicks,xPx:[672.6,762.8,870.3,978,1086],yTicks:exp4YTicks,yPx:[1244.8,1349,1453,1556.4,1651.6],
 eqFrom:[-519,-523],cols:exp4Cols,rows:exp4Rows,tail:exp4Tail,excluded:exp4Excluded,agtb:exp4AgtB,bgta:exp4BgtA,rings:exp4Rings,threshold:exp4Threshold,counts:exp4Counts,
 legend:[690.5,1513.6,149.5,125],title:['Experimental 4',866.5,1226],xTitle:['Y2, IGH clonotype frequencies',873,1723],yTitle:['X2, IGH clonotype frequencies',613,1456],seqH:[720.8,1260],seqV:[1079,1447.5]});

/* ---- panel C ---- */
strip({id:'panel-c',frame:[1229,79,1452,770],y0:735.4,y1:231,v0:0,v1:60,ticks:cTicks,minor:cMinorTicks,fmt:v=>String(v),tickRight:1221.5,
 catPx:[1290,1391.4],labelPx:[1290,1395.6],labelY:813,step:101.4,series:[[cControlValues,cControlJitter],[cExperimentValues,cExperimentJitter]],
 yTitle:['Number of expanded or contracted clones',1179,411],titleSize:22});
/* ---- panel D ---- */
strip({id:'panel-d',frame:[1574.8,68,1786,766],y0:734.3,y1:99,v0:0,v1:1,ticks:dTicks,minor:dMinorTicks,fmt:v=>v.toFixed(2),tickRight:1567.7,
 catPx:[1632.3,1728.4],labelPx:[1622,1727],labelY:810,step:96,series:[[dControlValues,dControlJitter],[dExperimentValues,dExperimentJitter]],
 yTitle:['Pearson correleation between clonotype counts',1515,401.7],titleSize:22});

/* ---- panel E ---- */
(function(){
  const g=mk('g',{});
  
  
  const base=1672.7,unit=9.38,left=1242.5;
  const Y=v=>base-v*unit;
  const X=i=>1295.8+i*108.6;
  eTicks.forEach(v=>{
    if(v>0){
      const l=mk('line',{x1:left,x2:1788,y1:Y(v),y2:Y(v),stroke:'#dcdcdc','stroke-width':3},g);
      
      
    }
    const t=mk('text',{x:1233,y:Y(v)+11.5,'font-size':21.5,'text-anchor':'end',fill:'#333'},g,String(v));
    
    
  });
  const ax=mk('line',{x1:left,x2:left,y1:967,y2:base,stroke:'#dcdcdc','stroke-width':3.4},g);
  
  
  const ax2=mk('line',{x1:left,x2:1788,y1:base,y2:base,stroke:'#dcdcdc','stroke-width':3.4},g);
  
  
  const colors=['#4b8fc6','#8fb2da','#35b474','#92d0a5'];
  [y1Values,y2Values,x1Values,x2Values].forEach((vals,s)=>{
    vals.forEach((v,i)=>{
      const b=mk('rect',{x:X(i)+(s-1.5)*19.6-7.9,y:Y(v),width:15.8,height:v*unit,fill:colors[s],'fill-opacity':.95},g);
      
      
    });
  });
  const labelX=[1298,1403.6,1514,1617.6,1731];
  isotypes.forEach((c,i)=>{
    const t=mk('text',{x:labelX[i],y:1716,'font-size':28,'text-anchor':'middle',fill:'#555'},g,c);
    
    
  });
  const ti=mk('text',{x:1527.8,y:968.5,'font-size':25.8,'text-anchor':'middle',fill:'#222'},g,'Isotype proportions');
  
  
  const yt=mk('text',{transform:'translate(1185,1319) rotate(-90)','font-size':22,'text-anchor':'middle',fill:'#111'},g,'Isotype, percentage of IGH repertoire');
  
  
  const lg=mk('g',{},g);
  
  
  mk('rect',{x:1706,y:1046,width:61,height:187,fill:'#fff',stroke:'#d9d9d9','stroke-width':1.6},lg);
  seriesNames.forEach((n,i)=>{
    const k=mk('rect',{x:1719.6,y:1066.7+i*42,width:6.6,height:20.5,fill:colors[i]},lg);
    
    
    const t=mk('text',{x:1734.7,y:1084+i*42,'font-size':14,fill:'#222'},lg,n);
    
    
  });
})();
</script>
</body>
</html>
